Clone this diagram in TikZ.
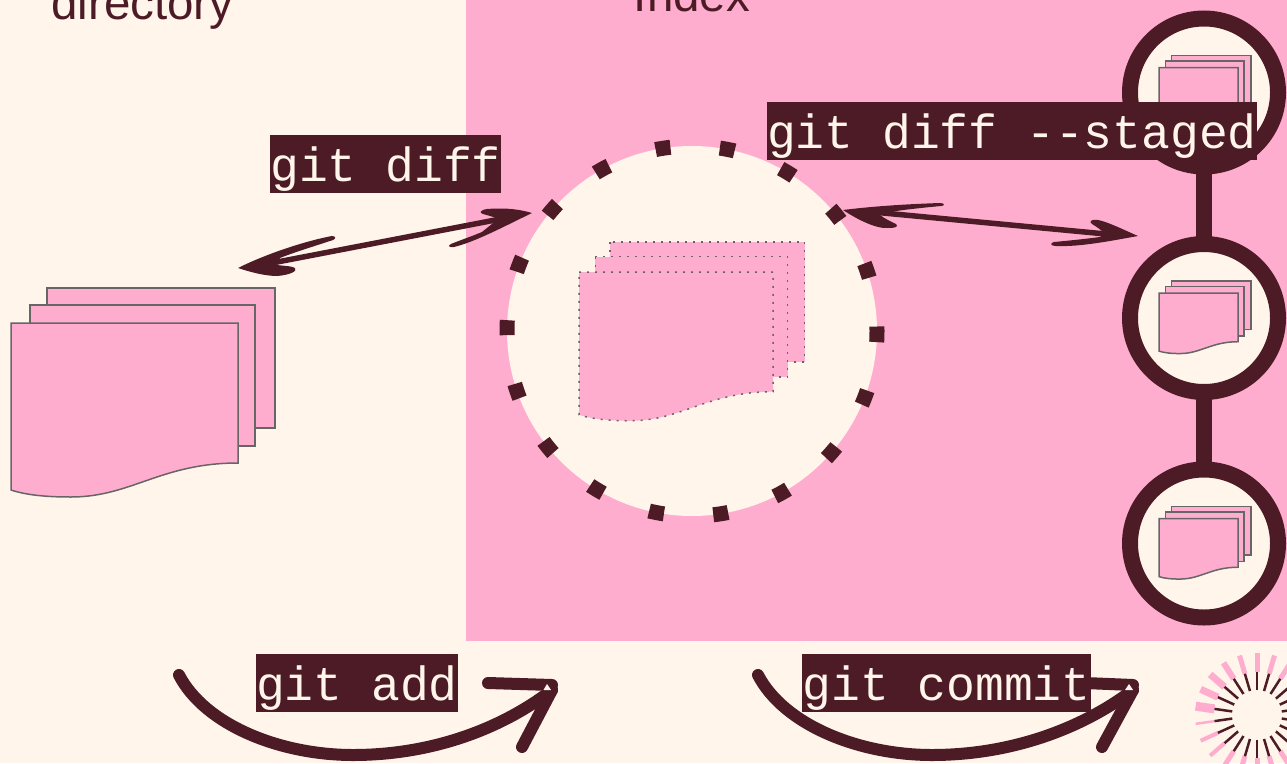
\documentclass[tikz,border=0pt]{standalone}
\usepackage{fontspec}
\setmainfont{Liberation Sans}
\setmonofont{Liberation Mono}
\usepackage{tikz}

\definecolor{paper}{HTML}{FFF5EB}
\definecolor{blush}{HTML}{FFADCF}
\definecolor{wine}{HTML}{4D1B26}
\definecolor{edge}{HTML}{666666}

\tikzset{
  heading/.style={anchor=base,text=wine,font=\fontsize{47.5}{47.5}\selectfont},
  cmd/.style={fill=wine,text=paper,inner sep=0pt,text height=46pt,text depth=12pt,
              font=\ttfamily\fontsize{48}{48}\selectfont},
  commit/.style={circle,draw=wine,fill=paper,line width=16pt,minimum size=148pt,inner sep=0pt,outer sep=0pt},
  link/.style={draw=wine,line width=16pt},
  swoop/.style={draw=wine,line width=12pt,line cap=round,line join=round},
  shaft/.style={draw=wine,line width=5.5pt},
  pics/docstack/.style={code={
    \draw[sheet] (36,-35) rectangle (264,105);
    \draw[sheet] (19,-18) rectangle (244,123);
    \draw[sheet] (0,0) -- (227,0) -- (227,140)
      .. controls (150,140) and (120,174) .. (60,174)
      .. controls (35,174) and (15,172) .. (0,167) -- cycle;
  }},
  sheet/.style={fill=blush}
}

\begin{document}
\begin{tikzpicture}[x=1pt,y=-1pt,node distance=225.5pt,edge,line width=1.5pt]
  \useasboundingbox (0,0) rectangle (1287,763);
  \fill[paper] (0,0) rectangle (1287,763);
  \fill[blush] (466,0) rectangle (1287,641);

  \node[heading] (workdir) at (142.5,19) {directory};
  \node[heading] (staging) at (692,11) {Index};

  % staging area
  \node (index) [circle,draw=wine,fill=paper,line width=15pt,minimum size=370pt,inner sep=0pt,outer sep=0pt,
                 dash pattern=on 15pt off 49.55pt,dash phase=10.5pt] at (692,331) {};
  \pic[dash pattern=on 2pt off 6pt] at ([shift={(-113,-59)}]index.center) [scale=.855] {docstack};
  \pic at (11,323) {docstack};

  % commits
  \node[commit] (C) at (1204,92.5) {};
  \node[commit] (B) [below of=C] {};
  \node[commit] (A) [below of=B] {};
  \path (C) edge[link] (B)
        (B) edge[link] (A);
  \foreach \c in {C,B,A}
    \pic at ([shift={(-45,-25)}]\c.center) [scale=.348] {docstack};

  % hand drawn double arrows
  \coordinate (diffL) at (272,263);
  \coordinate (diffR) at (498,219.5);
  \coordinate (stagedL) at (878,212.5);
  \coordinate (stagedR) at (1106,234);
  \draw[shaft] (diffL) -- (diffR);
  \draw[shaft] (stagedL) -- (stagedR);
  \fill[wine] (238,268) .. controls (270,252) and (310,240) .. (332,236) .. controls (336,236) and (336,239) .. (333,240)
    .. controls (315,246) and (295,252) .. (280,258) -- (277,265) .. controls (285,266) and (292,266) .. (295,268)
    .. controls (298,271) and (290,275) .. (277,276) .. controls (265,276) and (250,272) .. (238,268) -- cycle;
  \fill[wine] (532,213) .. controls (515,208) and (500,208) .. (487,209) .. controls (480,210) and (479,213) .. (483,214)
    .. controls (490,216) and (494,217) .. (498,219) -- (482,232) .. controls (470,237) and (458,241) .. (451,244)
    .. controls (447,246) and (450,248) .. (454,247) .. controls (475,242) and (505,226) .. (532,213) -- cycle;
  \fill[wine] (843,210) .. controls (875,206) and (910,204) .. (940,203) .. controls (945,203) and (945,206) .. (941,206)
    .. controls (920,208) and (900,210) .. (885,213) -- (880,215) .. controls (885,219) and (892,222) .. (896,224)
    .. controls (899,227) and (895,228) .. (888,228) .. controls (875,229) and (855,218) .. (843,210) -- cycle;
  \fill[wine] (1138,236) .. controls (1122,229) and (1108,222) .. (1098,220) .. controls (1090,219) and (1089,222) .. (1092,224)
    .. controls (1097,227) and (1101,230) .. (1104,233) -- (1100,237) .. controls (1085,239) and (1065,241) .. (1054,242)
    .. controls (1050,243) and (1050,246) .. (1056,246) .. controls (1080,247) and (1110,241) .. (1138,236) -- cycle;

  % curved arrows under the boxes
  \coordinate (addS) at (179,675);
  \coordinate (addE) at (552,690);
  \coordinate (commitS) at (758,675);
  \coordinate (commitE) at (1133,690);
  \draw[swoop] (addS) .. controls (205,725) and (280,755) .. (353,755) .. controls (430,755) and (500,730) .. (addE);
  \draw[swoop] (488,683) -- (552,685);
  \draw[swoop] (522,747) -- (addE);
  \fill[paper] (543.5,690) -- (551,690) -- (547,684) -- cycle;
  \draw[swoop] (commitS) .. controls (784,725) and (859,755) .. (932,755) .. controls (1009,755) and (1080,730) .. (commitE);
  \draw[swoop] (1085,683) -- (1133,685);
  \draw[swoop] (1102,747) -- (commitE);
  \fill[paper] (1125,690) -- (1133,690) -- (1129,684) -- cycle;

  \node[cmd] (diff) at (385.5,164) {git diff};
  \node[cmd] (staged) at (1012,131) {git diff --staged};
  \node[cmd] (add) at (357,683) {git add};
  \node[cmd] (cmt) at (946.5,683) {git commit};

  % burst in the corner
  \coordinate (sun) at (1257,715);
  \foreach \k/\w in {0/5,1/5,2/6,3/7,4/7,5/9,6/2.5,7/4,8/4,9/5,10/5,11/5,12/5,13/5,14/5,15/5,16/5,17/4,18/4,19/4,20/5,21/5}{
    \draw[blush,line width=\w pt] ([shift={(sun)}]-90-\k*16.3636:43) -- ([shift={(sun)}]-90-\k*16.3636:62);
    \draw[wine,line width=2.5pt] ([shift={(sun)}]-90-\k*16.3636:25) -- ([shift={(sun)}]-90-\k*16.3636:43);
  }
\end{tikzpicture}
\end{document}
